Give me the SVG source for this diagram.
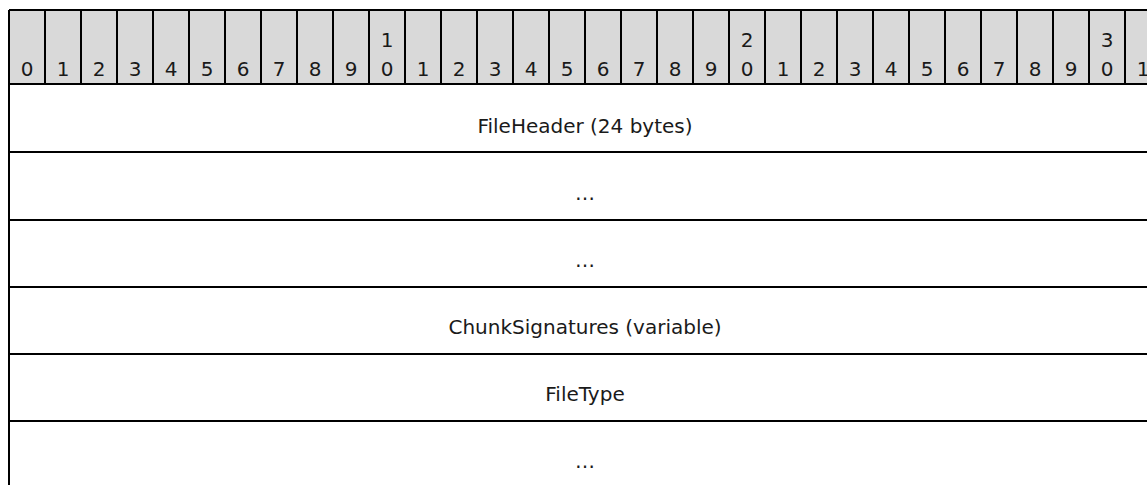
<svg xmlns="http://www.w3.org/2000/svg" width="1147" height="485" viewBox="0 0 1147 485">
<style>
.hdr{fill:#d9d9d9;stroke:none}
.ln{stroke:#000;stroke-width:2;fill:none}
.bit{font-family:"DejaVu Sans",Verdana,sans-serif;font-size:20px;fill:#1a1a1a;text-anchor:middle}
.lbl{font-family:"DejaVu Sans",Verdana,sans-serif;font-size:20px;fill:#1a1a1a;text-anchor:middle}
</style>
<rect width="1147" height="485" fill="#fff"/>
<g id="header">
<rect class="hdr" x="9" y="10" width="1152" height="74"/>
<g class="bit">
<text x="27" y="76">0</text><text x="63" y="76">1</text><text x="99" y="76">2</text><text x="135" y="76">3</text><text x="171" y="76">4</text><text x="207" y="76">5</text><text x="243" y="76">6</text><text x="279" y="76">7</text><text x="315" y="76">8</text><text x="351" y="76">9</text>
<text x="387" y="47">1</text><text x="387" y="76">0</text>
<text x="423" y="76">1</text><text x="459" y="76">2</text><text x="495" y="76">3</text><text x="531" y="76">4</text><text x="567" y="76">5</text><text x="603" y="76">6</text><text x="639" y="76">7</text><text x="675" y="76">8</text><text x="711" y="76">9</text>
<text x="747" y="47">2</text><text x="747" y="76">0</text>
<text x="783" y="76">1</text><text x="819" y="76">2</text><text x="855" y="76">3</text><text x="891" y="76">4</text><text x="927" y="76">5</text><text x="963" y="76">6</text><text x="999" y="76">7</text><text x="1035" y="76">8</text><text x="1071" y="76">9</text>
<text x="1107" y="47">3</text><text x="1107" y="76">0</text>
<text x="1143" y="76">1</text>
</g>
<path class="ln" d="M9 10H1161M9 84H1161M9 10V485M45 10V84M81 10V84M117 10V84M153 10V84M189 10V84M225 10V84M261 10V84M297 10V84M333 10V84M369 10V84M405 10V84M441 10V84M477 10V84M513 10V84M549 10V84M585 10V84M621 10V84M657 10V84M693 10V84M729 10V84M765 10V84M801 10V84M837 10V84M873 10V84M909 10V84M945 10V84M981 10V84M1017 10V84M1053 10V84M1089 10V84M1125 10V84"/>
</g>
<g id="row-fileheader"><text class="lbl" x="585" y="133">FileHeader (24 bytes)</text></g>
<g id="row-cont1"><text class="lbl" x="585" y="200">…</text></g>
<g id="row-cont2"><text class="lbl" x="585" y="267">…</text></g>
<g id="row-chunksignatures"><text class="lbl" x="585" y="334">ChunkSignatures (variable)</text></g>
<g id="row-filetype"><text class="lbl" x="585" y="401">FileType</text></g>
<g id="row-cont3"><text class="lbl" x="585" y="468">…</text></g>
<g id="connectors">
<path class="ln" d="M9 152H1161M9 220H1161M9 287H1161M9 354H1161M9 421H1161"/>
</g>
</svg>
